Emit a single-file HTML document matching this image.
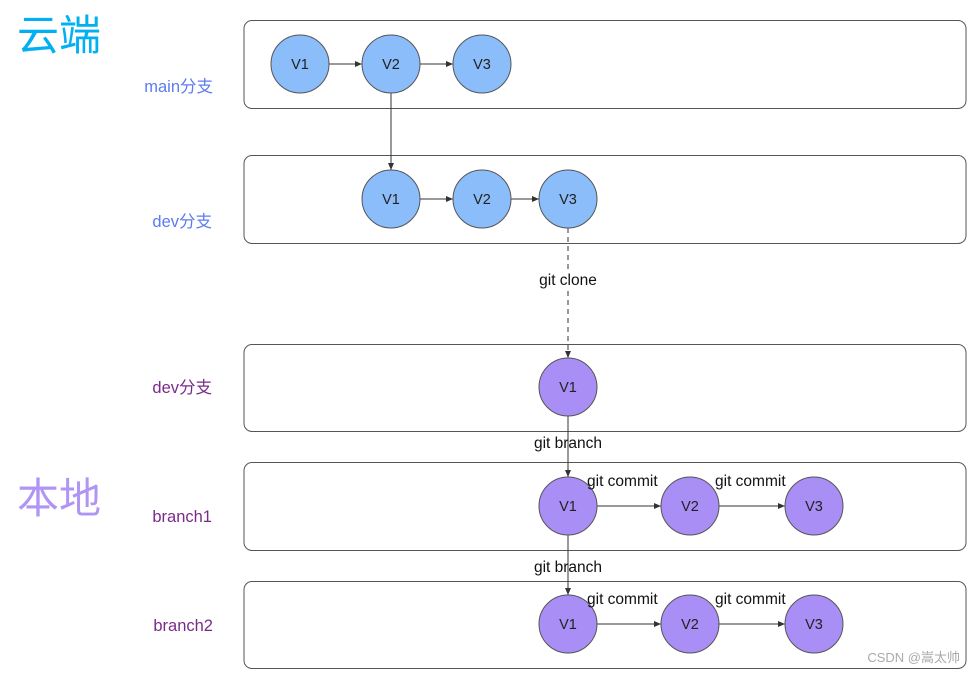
<!DOCTYPE html>
<html><head><meta charset="utf-8"><style>
html,body{margin:0;padding:0;background:#fff;}
svg text{font-family:"Liberation Sans","Noto Sans CJK SC",sans-serif;}
</style></head><body>
<svg width="975" height="674" viewBox="0 0 975 674" xmlns="http://www.w3.org/2000/svg">
<defs>
<marker id="a" markerWidth="8" markerHeight="8" refX="7" refY="4" orient="auto" markerUnits="userSpaceOnUse"><path d="M0,1 L7,4 L0,7 Z" fill="#333"/></marker>
</defs>
<g fill="none" stroke="#555" stroke-width="1">
<rect x="244" y="20.5" width="722" height="88" rx="8"/>
<rect x="244" y="155.5" width="722" height="88" rx="8"/>
<rect x="244" y="344.5" width="722" height="87" rx="8"/>
<rect x="244" y="462.5" width="722" height="88" rx="8"/>
<rect x="244" y="581.5" width="722" height="87" rx="8"/>
</g>
<text x="17" y="50" font-size="42" fill="#00b0f0">云端</text>
<text x="17" y="513" font-size="42" fill="#b095f5">本地</text>
<g font-size="16.5" text-anchor="end">
<text x="213" y="92" fill="#5b7cf0">main分支</text>
<text x="212" y="227" fill="#5b7cf0">dev分支</text>
<text x="212" y="393" fill="#7a2a8a">dev分支</text>
<text x="212" y="522" fill="#7a2a8a">branch1</text>
<text x="213" y="631" fill="#7a2a8a">branch2</text>
</g>
<g stroke="#333" stroke-width="1" fill="none">
<line x1="329" y1="64" x2="362" y2="64" marker-end="url(#a)"/>
<line x1="420" y1="64" x2="453" y2="64" marker-end="url(#a)"/>
<line x1="391" y1="93" x2="391" y2="170" marker-end="url(#a)"/>
<line x1="420" y1="199" x2="453" y2="199" marker-end="url(#a)"/>
<line x1="511" y1="199" x2="539" y2="199" marker-end="url(#a)"/>
<line x1="568" y1="228" x2="568" y2="358" stroke-dasharray="5,4" marker-end="url(#a)"/>
<line x1="568" y1="416" x2="568" y2="477" marker-end="url(#a)"/>
<line x1="568" y1="535" x2="568" y2="595" marker-end="url(#a)"/>
<line x1="597" y1="506" x2="661" y2="506" marker-end="url(#a)"/>
<line x1="719" y1="506" x2="785" y2="506" marker-end="url(#a)"/>
<line x1="597" y1="624" x2="661" y2="624" marker-end="url(#a)"/>
<line x1="719" y1="624" x2="785" y2="624" marker-end="url(#a)"/>
</g>
<g stroke="#555" stroke-width="1">
<g fill="#8bbdfa">
<circle cx="300" cy="64" r="29"/><circle cx="391" cy="64" r="29"/><circle cx="482" cy="64" r="29"/>
<circle cx="391" cy="199" r="29"/><circle cx="482" cy="199" r="29"/><circle cx="568" cy="199" r="29"/>
</g>
<g fill="#a98ef6">
<circle cx="568" cy="387" r="29"/>
<circle cx="568" cy="506" r="29"/><circle cx="690" cy="506" r="29"/><circle cx="814" cy="506" r="29"/>
<circle cx="568" cy="624" r="29"/><circle cx="690" cy="624" r="29"/><circle cx="814" cy="624" r="29"/>
</g>
</g>
<g font-size="14.5" text-anchor="middle" fill="#222">
<text x="300" y="69">V1</text><text x="391" y="69">V2</text><text x="482" y="69">V3</text>
<text x="391" y="204">V1</text><text x="482" y="204">V2</text><text x="568" y="204">V3</text>
<text x="568" y="392">V1</text>
<text x="568" y="511">V1</text><text x="690" y="511">V2</text><text x="814" y="511">V3</text>
<text x="568" y="629">V1</text><text x="690" y="629">V2</text><text x="814" y="629">V3</text>
</g>
<rect x="536" y="270" width="64" height="18" fill="#fff"/>
<g font-size="15.5" fill="#111">
<text x="568" y="285" text-anchor="middle">git clone</text>
<text x="568" y="448" text-anchor="middle">git branch</text>
<text x="568" y="572" text-anchor="middle">git branch</text>
<text x="587" y="486">git commit</text>
<text x="715" y="486">git commit</text>
<text x="587" y="604">git commit</text>
<text x="715" y="604">git commit</text>
</g>
<text x="960" y="662" font-size="13" fill="#aaa" text-anchor="end">CSDN @嵩太帅</text>
</svg>
</body></html>
